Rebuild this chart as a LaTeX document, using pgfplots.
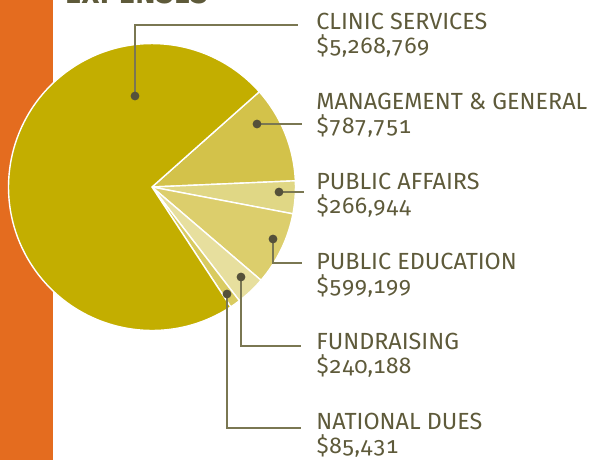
\documentclass[border=0pt]{standalone}
\usepackage{fontspec}
\setmainfont{Fira Sans}[Numbers=OldStyle]
\usepackage{pgfplots}
\pgfplotsset{compat=1.18}

\definecolor{barorange}{HTML}{E46C1F}
\definecolor{cClinic}{HTML}{C3AE00}
\definecolor{cMgmt}{HTML}{D3C24A}
\definecolor{cPA}{HTML}{E0D785}
\definecolor{cPE}{HTML}{DCCE6C}
\definecolor{cFR}{HTML}{E7DF9E}
\definecolor{cND}{HTML}{D9CB60}
\definecolor{txt}{HTML}{5E5A3A}
\definecolor{lead}{HTML}{7A7752}
\definecolor{dotc}{HTML}{55513A}

% expenses, dollars
\def\vClinic{5268769}
\def\vMgmt{787751}
\def\vPA{266944}
\def\vPE{599199}
\def\vFR{240188}
\def\vND{85431}
\edef\total{\fpeval{\vClinic+\vMgmt+\vPA+\vPE+\vFR+\vND}}
% slice boundaries, clockwise from the clinic/management edge
\edef\aA{41.6}
\edef\aB{\fpeval{\aA-360*\vMgmt/\total}}
\edef\aC{\fpeval{\aB-360*\vPA/\total}}
\edef\aD{\fpeval{\aC-360*\vPE/\total}}
\edef\aE{\fpeval{\aD-360*\vFR/\total}}
\edef\aF{\fpeval{\aE-360*\vND/\total}}
\edef\aG{\fpeval{\aF-360*\vClinic/\total}}
\def\R{2.87cm}

\newcommand\slice[3]{\fill[#1, draw=white, line width=0.8pt] (axis cs:152,187) -- ++(#2:\R) arc[start angle=#2, end angle=#3, radius=\R] -- cycle;}

\tikzset{
    lab/.style={text=txt, inner sep=0pt, anchor=base west,
        font=\fontsize{13.3}{15}\selectfont},
    num/.style={text=txt, inner sep=0pt, anchor=base west,
        font=\fontsize{13}{15}\selectfont\addfontfeatures{Numbers={OldStyle,Monospaced}}},
}

\begin{document}
\begin{tikzpicture}
\begin{axis}[
    x=0.02cm, y=0.02cm,
    xmin=0, xmax=591, ymin=0, ymax=460,
    y dir=reverse,
    hide axis, clip=false,
    leader/.style={lead, line width=0.75pt, mark=*, mark indices={1},
        mark size=2.1pt, mark options={draw=dotc, fill=dotc, solid}},
]
\addplot[fill=barorange, draw=none] coordinates {(0,0)(53,0)(53,460)(0,460)} -- cycle;

\slice{cMgmt}{\aA}{\aB}
\slice{cPA}{\aB}{\aC}
\slice{cPE}{\aC}{\aD}
\slice{cFR}{\aD}{\aE}
\slice{cND}{\aE}{\aF}
\slice{cClinic}{\aF}{\aG}

\addplot[leader] coordinates {(135,96)(135,25)(298,25)};
\addplot[leader] coordinates {(257,124)(302,124)};
\addplot[leader] coordinates {(279,192)(304,192)};
\addplot[leader] coordinates {(273,239)(273,263)(302,263)};
\addplot[leader] coordinates {(241,277)(241,346)(301,346)};
\addplot[leader] coordinates {(227,294)(227,428)(301,428)};

\node[text=txt, inner sep=0pt, anchor=base west, font=\fontsize{17}{20}\selectfont\bfseries\addfontfeatures{LetterSpace=3}] at (axis cs:65,3) {EXPENSES};

\node[lab] at (axis cs:316,29) {CLINIC SERVICES};
\node[num] at (axis cs:316,53) {\$5,268,769};
\node[lab] at (axis cs:316,109) {MANAGEMENT \& GENERAL};
\node[num] at (axis cs:316,133) {\$787,751};
\node[lab] at (axis cs:316,189) {PUBLIC AFFAIRS};
\node[num] at (axis cs:316,213) {\$266,944};
\node[lab] at (axis cs:316,269) {PUBLIC EDUCATION};
\node[num] at (axis cs:316,293) {\$599,199};
\node[lab] at (axis cs:316,349) {FUNDRAISING};
\node[num] at (axis cs:316,373) {\$240,188};
\node[lab] at (axis cs:316,429) {NATIONAL DUES};
\node[num] at (axis cs:316,453) {\$85,431};
\end{axis}
\pgfresetboundingbox
\useasboundingbox (current axis.south west) rectangle (current axis.north east);
\end{tikzpicture}
\end{document}
